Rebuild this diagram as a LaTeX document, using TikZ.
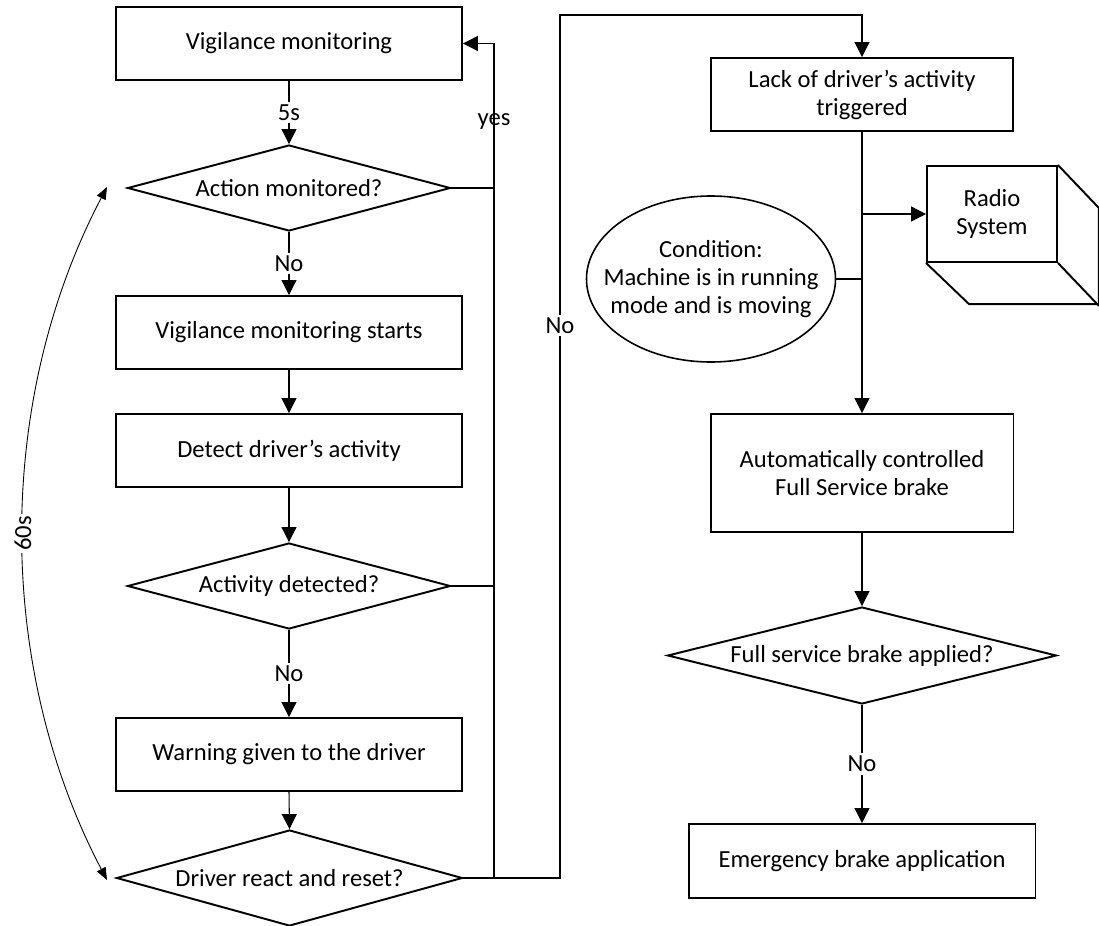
\documentclass[tikz,border=0pt]{standalone}
\usepackage{fontspec}
\setmainfont{Carlito}
\usetikzlibrary{shapes.geometric,arrows.meta}

\begin{document}
\begin{tikzpicture}[x=0.02cm,y=-0.02cm,
            font=\fontsize{14}{16}\selectfont,
            box/.style={draw,line width=1.1pt,align=center,inner sep=0pt,minimum width=6.92cm,minimum height=1.46cm},
            dia/.style={draw,diamond,line width=1.1pt,inner sep=0pt,shape aspect=3.756,minimum width=6.46cm,minimum height=1.72cm},
            oval/.style={align=center,inner sep=0pt},
            flow/.style={line width=0.6pt,-{Triangle[length=8.5pt,width=8.5pt]}},
            lbl/.style={fill=white,inner sep=1.5pt}]
            \useasboundingbox (0,0) rectangle (1099,926);
            \node[box] (vm) at (289,43.5) {Vigilance monitoring};
            \node[dia] (am) at (289,188) {Action monitored?};
            \node[box] (vms) at (289,332.5) {Vigilance monitoring starts};
            \node[box] (dda) at (289,450.5) {Detect driver’s activity};
            \node[dia] (ad) at (289,586) {Activity detected?};
            \node[box] (wg) at (289,754.5) {Warning given to the driver};
            \node[dia,shape aspect=3.604,minimum width=6.92cm,minimum height=1.92cm] (dr) at (289.5,878) {Driver react and reset?};
            \node[box,minimum width=6.04cm] (lack) at (862,94.5) {Lack of driver’s activity\\triggered};
            \node[oval] (cond) at (711,279) {Condition:\\Machine is in running\\mode and is moving};
            \draw[line width=0.9pt] (cond.center) ellipse [x radius=124.5,y radius=83];
            \coordinate (ce) at (835.5,279);
            \node[box,minimum width=2.6cm,minimum height=1.92cm] (radio) at (992,214) {Radio\\System};
            \node[box,minimum width=6.06cm,minimum height=2.36cm] (auto) at (862,473) {Automatically controlled\\Full Service brake};
            \node[dia,shape aspect=4.01,minimum width=7.78cm,minimum height=1.94cm] (fsb) at (862,655.5) {Full service brake applied?};
            \node[box,minimum width=6.94cm,minimum height=1.48cm] (eba) at (862,861) {Emergency brake application};
            \draw[line width=1.1pt,line join=round] (radio.north east) -- ++(41,43) -- ++(0,96) -- ++(-130,0) -- (radio.south west);
            \draw[line width=1.1pt] (radio.south east) -- ++(41,43);
            \draw[flow] (vm.south) -- node[lbl]{5s} (am.north);
            \draw[flow] (am.south) -- node[lbl]{No} (vms.north);
            \draw[flow] (vms.south) -- (dda.north);
            \draw[flow] (dda.south) -- (ad.north);
            \draw[flow] (ad.south) -- node[lbl]{No} (wg.north);
            \draw[flow] (wg.south) -- (dr.north);
            \coordinate (ys) at (494,878);
            \coordinate (nb) at (560,878);
            \coordinate (nt) at (560,15);
            \draw[line width=0.6pt] (am.east) -- (am.east -| ys);
            \draw[line width=0.6pt] (ad.east) -- (ad.east -| ys);
            \draw[flow] (ys) -- node[pos=0.906]{yes} (ys |- vm.east) -- (vm.east);
            \draw[flow] (dr.east) -- (nb) -- node[lbl,pos=0.64]{No} (nt) -| (lack.north);
            \draw[flow] (lack.south) -- (auto.north);
            \draw[flow] (lack.south |- radio.west) -- (radio.west);
            \draw[line width=0.6pt] (ce) -- (ce -| lack.south);
            \draw[flow] (auto.south) -- (fsb.north);
            \draw[flow] (fsb.south) -- node[lbl]{No} (eba.north);
            \coordinate (a1) at (107,187);
            \coordinate (a2) at (107,880);
            \draw[line width=0.5pt,{Triangle[length=7pt,width=5.5pt]}-{Triangle[length=7pt,width=5.5pt]}] (a1) .. controls (-5,400) and (-5,667) .. node[lbl,rotate=90,inner sep=1pt]{60s} (a2);
        \end{tikzpicture}
\end{document}
